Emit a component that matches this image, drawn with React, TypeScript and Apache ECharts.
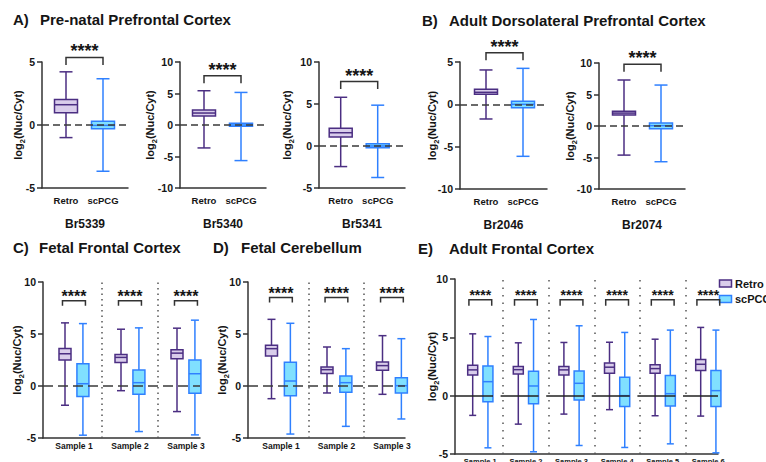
import React, { useEffect, useRef } from 'react';
import * as echarts from 'echarts';

// ---------------- data ----------------
const groupNames = ['Retro', 'scPCG'];
const prenatalDonors = ['Br5339', 'Br5340', 'Br5341'];
const adultDlpfcDonors = ['Br2046', 'Br2074'];
const samples3 = ['Sample 1', 'Sample 2', 'Sample 3'];
const samples6 = ['Sample 1', 'Sample 2', 'Sample 3', 'Sample 4', 'Sample 5', 'Sample 6'];

// box statistics: [min, Q1, median, Q3, max] of log2(Nuc/Cyt)
const br5339Retro = [-1.0, 0.98, 1.61, 2.03, 4.22];
const br5339Scpcg = [-3.67, -0.29, -0.03, 0.29, 3.67];
const br5340Retro = [-3.64, 1.42, 1.9, 2.37, 5.44];
const br5340Scpcg = [-5.65, -0.2, 0.0, 0.26, 5.17];
const br5341Retro = [-2.45, 1.07, 1.58, 2.1, 5.8];
const br5341Scpcg = [-3.75, -0.2, 0.0, 0.28, 4.86];
const br2046Retro = [-1.73, 1.18, 1.42, 1.77, 4.06];
const br2046Scpcg = [-6.14, -0.39, 0.0, 0.35, 4.25];
const br2074Retro = [-4.62, 1.73, 2.05, 2.36, 7.3];
const br2074Scpcg = [-5.67, -0.42, 0.05, 0.47, 6.5];

const fetalFrontalRetro = [
  [-1.85, 2.49, 3.1, 3.61, 6.07],
  [-0.45, 2.27, 2.75, 3.04, 5.46],
  [-2.46, 2.62, 3.16, 3.48, 5.56],
];
const fetalFrontalScpcg = [
  [-4.73, -1.02, 0.22, 2.14, 6.0],
  [-4.38, -0.8, 0.32, 1.53, 5.59],
  [-4.7, -0.7, 1.18, 2.49, 6.33],
];
const fetalCerebRetro = [
  [-1.22, 2.88, 3.59, 3.91, 6.41],
  [-0.67, 1.19, 1.57, 1.83, 3.75],
  [-0.8, 1.51, 1.96, 2.31, 4.84],
];
const fetalCerebScpcg = [
  [-4.62, -0.93, 0.48, 2.28, 6.03],
  [-3.88, -0.61, 0.32, 0.96, 3.59],
  [-3.17, -0.67, 0.03, 0.8, 4.55],
];
const adultFrontalRetro = [
  [-1.69, 1.78, 2.21, 2.61, 5.3],
  [-2.44, 1.86, 2.23, 2.49, 4.53],
  [-1.58, 1.78, 2.21, 2.49, 4.56],
  [-1.2, 1.92, 2.44, 2.81, 4.58],
  [-1.72, 1.92, 2.32, 2.64, 4.84],
  [-1.75, 2.15, 2.69, 3.09, 5.85],
];
const adultFrontalScpcg = [
  [-4.47, -0.52, 1.2, 2.55, 5.07],
  [-4.81, -0.69, 0.83, 2.09, 6.53],
  [-4.27, -0.37, 1.06, 2.12, 5.99],
  [-4.44, -0.92, 0.0, 1.58, 5.42],
  [-4.13, -0.89, 0.17, 1.72, 5.62],
  [-4.9, -0.92, 0.43, 2.15, 5.62],
];

// significance bracket heights (data units) and labels
const sigLabel = '****';
const prenatalBracket = [5.36, 7.8, 7.67];
const adultDlpfcBracket = [6.1, 9.8];
const fetalFrontalBracket = [8.2, 8.2, 8.2];
const fetalCerebBracket = [8.5, 8.5, 8.5];
const adultFrontalBracket = [8.22, 8.22, 8.22, 8.22, 8.22, 8.22];

// y ranges
const prenatalYMin = [-5, -10, -5];
const prenatalYMax = [5, 10, 10];
const adultDlpfcYMin = [-10, -10];
const adultDlpfcYMax = [5, 10];

const panelTitles = [
  { letter: 'A)', text: 'Pre-natal Prefrontal Cortex' },
  { letter: 'B)', text: 'Adult Dorsolateral Prefrontal Cortex' },
  { letter: 'C)', text: 'Fetal Frontal Cortex' },
  { letter: 'D)', text: 'Fetal Cerebellum' },
  { letter: 'E)', text: 'Adult Frontal Cortex' },
];

// ---------------- styles ----------------
const FONT = '"Liberation Sans", Arial, Helvetica, sans-serif';
const INK = '#151515';
const AXIS = '#333333';
const RETRO_STROKE = '#4b2e82';
const RETRO_FILL = '#d9cdeb';
const SC_STROKE = '#2f80ff';
const SC_FILL = '#80e0ff';

type Panel = {
  left: number; top: number; width: number; height: number;
  yMin: number; yMax: number;
  spacingPx: number; firstPx: number; offset: number; bracketHalf: number;
  retro: number[][]; sc: number[][]; bracket: number[];
  labels: string[]; perBox: boolean; name?: string;
  boxW: number; capW: number; starSize: number; legH: number; starDy: number;
  yNameGap: number; zeroDash: number[]; zeroColor: string; sepDash?: number[];
  labelSize: number; labelMargin: number;
};

const abCommon = {
  height: 126, spacingPx: 37, offset: 0.5, bracketHalf: 0.5, perBox: true,
  boxW: 23, capW: 13, starSize: 18, legH: 7.5, starDy: -6,
  zeroDash: [7, 4], zeroColor: '#3a3a3a', labelSize: 9.5, labelMargin: 7,
};

const panels: Panel[] = [
  { ...abCommon, left: 42, top: 62, width: 86, firstPx: 24, yMin: prenatalYMin[0], yMax: prenatalYMax[0],
    retro: [br5339Retro], sc: [br5339Scpcg], bracket: [prenatalBracket[0]], labels: groupNames, name: prenatalDonors[0], yNameGap: 16 },
  { ...abCommon, left: 180, top: 62, width: 86, firstPx: 24, yMin: prenatalYMin[1], yMax: prenatalYMax[1],
    retro: [br5340Retro], sc: [br5340Scpcg], bracket: [prenatalBracket[1]], labels: groupNames, name: prenatalDonors[1], yNameGap: 22 },
  { ...abCommon, left: 319, top: 62, width: 86, firstPx: 21.7, yMin: prenatalYMin[2], yMax: prenatalYMax[2],
    retro: [br5341Retro], sc: [br5341Scpcg], bracket: [prenatalBracket[2]], labels: groupNames, name: prenatalDonors[2], yNameGap: 24 },
  { ...abCommon, left: 460, top: 62, width: 87, height: 127, firstPx: 26, yMin: adultDlpfcYMin[0], yMax: adultDlpfcYMax[0],
    retro: [br2046Retro], sc: [br2046Scpcg], bracket: [adultDlpfcBracket[0]], labels: groupNames, name: adultDlpfcDonors[0], yNameGap: 20 },
  { ...abCommon, left: 599, top: 63, width: 86, firstPx: 25, yMin: adultDlpfcYMin[1], yMax: adultDlpfcYMax[1],
    retro: [br2074Retro], sc: [br2074Scpcg], bracket: [adultDlpfcBracket[1]], labels: groupNames, name: adultDlpfcDonors[1], yNameGap: 21 },
  { left: 43, top: 282, width: 157, height: 156, yMin: -5, yMax: 10, spacingPx: 56, firstPx: 22, offset: 0.16, bracketHalf: 0.205,
    retro: fetalFrontalRetro, sc: fetalFrontalScpcg, bracket: fetalFrontalBracket, labels: samples3, perBox: false,
    boxW: 12, capW: 8, starSize: 16, legH: 5, starDy: -4.5, yNameGap: 18, zeroDash: [10, 5], zeroColor: '#3a3a3a', sepDash: [1.5, 4],
    labelSize: 8.5, labelMargin: 3 },
  { left: 248, top: 282, width: 157, height: 156, yMin: -5, yMax: 10, spacingPx: 55.5, firstPx: 23.5, offset: 0.17, bracketHalf: 0.205,
    retro: fetalCerebRetro, sc: fetalCerebScpcg, bracket: fetalCerebBracket, labels: samples3, perBox: false,
    boxW: 12, capW: 8, starSize: 16, legH: 5, starDy: -4.5, yNameGap: 18, zeroDash: [10, 5], zeroColor: '#3a3a3a', sepDash: [1.5, 4],
    labelSize: 8.5, labelMargin: 3 },
  { left: 455, top: 279, width: 263, height: 175, yMin: -5, yMax: 10, spacingPx: 45.6, firstPx: 17.7, offset: 0.167, bracketHalf: 0.25,
    retro: adultFrontalRetro, sc: adultFrontalScpcg, bracket: adultFrontalBracket, labels: samples6, perBox: false,
    boxW: 10, capW: 7, starSize: 14, legH: 6, starDy: -4.5, yNameGap: 15, zeroDash: [38, 7.6], zeroColor: '#222', sepDash: [1.5, 6],
    labelSize: 7.5, labelMargin: 3 },
];

const yName = '{a|log}{s|2}{a|(Nuc/Cyt)}';
const yNameRich = {
  a: { fontSize: 11, fontWeight: 'bold', fontFamily: FONT, color: INK, lineHeight: 16 },
  s: { fontSize: 7.5, fontWeight: 'bold', fontFamily: FONT, color: INK, lineHeight: 16, verticalAlign: 'bottom' },
};

function boxRenderer(boxW: number, capW: number, stroke: string, fill: string) {
  return (_params: any, api: any) => {
    const x = api.value(0);
    const pMin = api.coord([x, api.value(1)]);
    const pQ1 = api.coord([x, api.value(2)]);
    const pMed = api.coord([x, api.value(3)]);
    const pQ3 = api.coord([x, api.value(4)]);
    const pMax = api.coord([x, api.value(5)]);
    const cx = pMin[0];
    const ls = { stroke, lineWidth: 1.5, fill: 'none' };
    return {
      type: 'group',
      children: [
        { type: 'line', shape: { x1: cx, y1: pMax[1], x2: cx, y2: pQ3[1] }, style: ls },
        { type: 'line', shape: { x1: cx, y1: pQ1[1], x2: cx, y2: pMin[1] }, style: ls },
        { type: 'line', shape: { x1: cx - capW / 2, y1: pMax[1], x2: cx + capW / 2, y2: pMax[1] }, style: ls },
        { type: 'line', shape: { x1: cx - capW / 2, y1: pMin[1], x2: cx + capW / 2, y2: pMin[1] }, style: ls },
        { type: 'rect', shape: { x: cx - boxW / 2, y: pQ3[1], width: boxW, height: Math.max(pQ1[1] - pQ3[1], 1) },
          style: { fill, stroke, lineWidth: 1.5 } },
        { type: 'line', shape: { x1: cx - boxW / 2, y1: pMed[1], x2: cx + boxW / 2, y2: pMed[1] }, style: ls },
      ],
    };
  };
}

function buildOption() {
  const grid: any[] = [];
  const xAxis: any[] = [];
  const yAxis: any[] = [];
  const series: any[] = [];

  panels.forEach((p, idx) => {
    const xMin = -p.offset - p.firstPx / p.spacingPx;
    const xMax = xMin + p.width / p.spacingPx;
    const nGroups = p.retro.length;
    const labelPos = p.perBox ? [-p.offset, p.offset] : p.labels.map((_, g) => g);
    grid.push({ left: p.left, top: p.top, width: p.width, height: p.height, outerBoundsMode: 'none' });
    xAxis.push({
      gridIndex: idx, type: 'value', min: xMin, max: xMax,
      axisLine: { show: true, onZero: false, lineStyle: { color: AXIS, width: 1.5 } },
      axisTick: { show: false },
      splitLine: { show: false },
      axisLabel: {
        show: true, customValues: labelPos, margin: p.labelMargin,
        formatter: (v: number) => {
          const k = labelPos.findIndex((q) => Math.abs(q - v) < 1e-6);
          return k >= 0 ? p.labels[k] : '';
        },
        fontSize: p.labelSize, fontWeight: 'bold', fontFamily: FONT, color: INK,
      },
      name: p.name || '', nameLocation: 'middle', nameGap: 30,
      nameTextStyle: { fontSize: 12, fontWeight: 'bold', fontFamily: FONT, color: INK },
    });
    yAxis.push({
      gridIndex: idx, type: 'value', min: p.yMin, max: p.yMax, interval: 5,
      axisLine: { show: true, onZero: false, lineStyle: { color: AXIS, width: 1.5 } },
      axisTick: { show: true, length: 5, lineStyle: { color: AXIS, width: 1.5 } },
      splitLine: { show: false },
      axisLabel: { fontSize: 10.5, fontWeight: 'bold', fontFamily: FONT, color: INK, margin: 7 },
      name: yName, nameLocation: 'middle', nameRotate: 90, nameGap: p.yNameGap, nameMoveOverlap: false,
      nameTextStyle: { rich: yNameRich },
    });

    const retroData = p.retro.map((v, g) => [g - p.offset, ...v]);
    const scData = p.sc.map((v, g) => [g + p.offset, ...v]);
    series.push({
      type: 'custom', name: groupNames[0], coordinateSystem: 'cartesian2d', xAxisIndex: idx, yAxisIndex: idx,
      clip: false, z: 2, encode: { x: 0, y: [1, 2, 3, 4, 5] },
      itemStyle: { color: RETRO_FILL, borderColor: RETRO_STROKE, borderWidth: 1.5 },
      data: retroData, renderItem: boxRenderer(p.boxW, p.capW, RETRO_STROKE, RETRO_FILL), silent: true,
    });
    series.push({
      type: 'custom', name: groupNames[1], coordinateSystem: 'cartesian2d', xAxisIndex: idx, yAxisIndex: idx,
      clip: false, z: 2, encode: { x: 0, y: [1, 2, 3, 4, 5] },
      itemStyle: { color: SC_FILL, borderColor: SC_STROKE, borderWidth: 1.5 },
      data: scData, renderItem: boxRenderer(p.boxW, p.capW, SC_STROKE, SC_FILL), silent: true,
    });

    const bracketData = p.bracket.map((lvl, g) => [g - p.bracketHalf, g + p.bracketHalf, lvl]);
    const seps: any[] = [];
    if (p.sepDash) {
      for (let g = 0; g < nGroups - 1; g++) {
        seps.push({ xAxis: g + 0.5, lineStyle: { type: p.sepDash, color: '#555', width: 1.5 } });
      }
    }
    series.push({
      type: 'custom', name: 'sig' + idx, coordinateSystem: 'cartesian2d', xAxisIndex: idx, yAxisIndex: idx,
      clip: false, z: 4, silent: true, encode: { x: [0, 1], y: 2 },
      data: bracketData,
      renderItem: (_params: any, api: any) => {
        const a = api.coord([api.value(0), api.value(2)]);
        const b = api.coord([api.value(1), api.value(2)]);
        return {
          type: 'group',
          children: [
            { type: 'polyline', shape: { points: [[a[0], a[1] + p.legH], [a[0], a[1]], [b[0], b[1]], [b[0], b[1] + p.legH]] },
              style: { stroke: AXIS, lineWidth: 1.5, fill: 'none' } },
            { type: 'text', x: (a[0] + b[0]) / 2, y: a[1] + p.starDy,
              style: { text: sigLabel, fontSize: p.starSize, fontWeight: 'bold', fontFamily: FONT, fill: INK,
                align: 'center', verticalAlign: 'middle' } },
          ],
        };
      },
      markLine: {
        silent: true, symbol: ['none', 'none'], label: { show: false }, animation: false,
        data: [
          { yAxis: 0, lineStyle: { type: p.zeroDash, color: p.zeroColor, width: 1.5 } },
          ...seps,
        ],
      },
    });
  });

  const titlePos = [
    { lx: 13, x: 40, y: 21 },
    { lx: 422, x: 449, y: 22 },
    { lx: 13, x: 39, y: 249 },
    { lx: 213, x: 241, y: 249 },
    { lx: 418, x: 449, y: 250 },
  ];
  const graphic: any[] = [];
  panelTitles.forEach((t, i) => {
    const pos = titlePos[i];
    graphic.push({ type: 'text', left: pos.lx, top: pos.y - 9, style: { text: t.letter, fontSize: 15, fontWeight: 'bold', fontFamily: FONT, fill: INK } });
    graphic.push({ type: 'text', left: pos.x, top: pos.y - 9, style: { text: t.text, fontSize: 15, fontWeight: 'bold', fontFamily: FONT, fill: INK } });
  });

  // legend of panel E (drawn as graphic elements for exact placement)
  const legendItems = [
    { name: groupNames[0], fill: RETRO_FILL, stroke: RETRO_STROKE, y: 280 },
    { name: groupNames[1], fill: SC_FILL, stroke: SC_STROKE, y: 295.5 },
  ];
  legendItems.forEach((it) => {
    graphic.push({ type: 'rect', x: 719.5, y: it.y, shape: { x: 0, y: 0, width: 12, height: 7 },
      style: { fill: it.fill, stroke: it.stroke, lineWidth: 1.5 } });
    graphic.push({ type: 'text', x: 735, y: it.y + 3.8,
      style: { text: it.name, fontSize: 11, fontWeight: 'bold', fontFamily: FONT, fill: INK, verticalAlign: 'middle' } });
  });

  return {
    animation: false,
    backgroundColor: '#ffffff',
    grid, xAxis, yAxis, series, graphic,
  };
}

export default function App() {
  const ref = useRef<HTMLDivElement>(null);
  useEffect(() => {
    document.body.style.margin = '0';
    if (!ref.current) return;
    const chart = echarts.init(ref.current, null, { renderer: 'svg' });
    chart.setOption(buildOption() as any);
    return () => chart.dispose();
  }, []);
  return <div ref={ref} style={{ position: 'absolute', left: 0, top: 0, width: 766, height: 462 }} />;
}
